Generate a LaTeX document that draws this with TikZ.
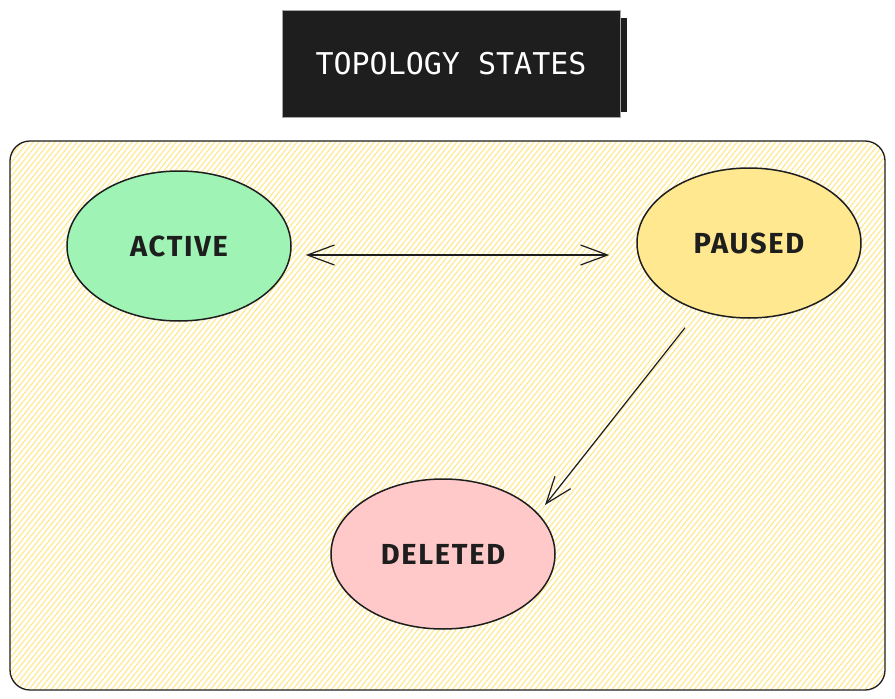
\documentclass[tikz,border=0pt]{standalone}
\usepackage{fontspec}
\setmainfont{Fira Sans}
\newfontfamily\titlefont{DejaVu Sans Mono}
\newfontfamily\labelfont[LetterSpace=6]{Fira Sans}
\usetikzlibrary{shapes.geometric,arrows.meta}
\definecolor{ink}{HTML}{1E1E1E}
\definecolor{hatch}{HTML}{FFE88A}
\definecolor{greenfill}{HTML}{9FF3B5}
\definecolor{yellowfill}{HTML}{FFE88F}
\definecolor{pinkfill}{HTML}{FFC9C9}
\tikzset{
  state/.style={ellipse, draw=ink, line width=1.5pt, minimum width=224pt,
    minimum height=150pt, inner sep=0pt,
    font=\labelfont\bfseries\fontsize{29}{29}\selectfont, text=ink},
  arr/.style={draw=ink, line width=1.2pt,
    -{Straight Barb[length=27pt,width=20pt,line width=1.2pt]}},
  dblarr/.style={draw=ink, line width=1.2pt,
    {Straight Barb[length=27pt,width=20pt,line width=1.2pt]}-{Straight Barb[length=27pt,width=20pt,line width=1.2pt]}},
}
\begin{document}
\begin{tikzpicture}[x=1pt,y=-1pt]
\useasboundingbox (0,0) rectangle (895,699);
\fill[white] (0,0) rectangle (895,699);
% container
\begin{scope}
  \clip[rounded corners=20pt] (10,141) rectangle (885,690);
  \foreach \i in {0,...,270} {
    \draw[hatch, line width=1.1pt] ({-450+\i*5.5},690) -- ({-10+\i*5.5},141);
  }
\end{scope}
\draw[ink, line width=1.3pt, rounded corners=20pt] (10,141) rectangle (885,690);
% title
\fill[ink] (621,18) rectangle (627,112);
\node[fill=ink, draw=gray!70, line width=0.6pt, minimum width=338pt, minimum height=107pt,
  inner sep=0pt, text=white, font=\titlefont\fontsize{30}{30}\selectfont] (title) at (451,63.5) {TOPOLOGY STATES};
% states
\node[state, fill=greenfill] (active) at (179,246) {ACTIVE};
\node[state, fill=yellowfill] (paused) at (749,243) {PAUSED};
\node[state, fill=pinkfill] (deleted) at (443,554) {DELETED};
% connectors
\draw[dblarr, shorten <=14pt, shorten >=27pt] ([yshift=-9pt]active.east) -- ([yshift=-12pt]paused.west);
\draw[arr] ([shift={(-64pt,-9pt)}]paused.south) -- ([shift={(102pt,49pt)}]deleted.center);
\end{tikzpicture}
\end{document}
